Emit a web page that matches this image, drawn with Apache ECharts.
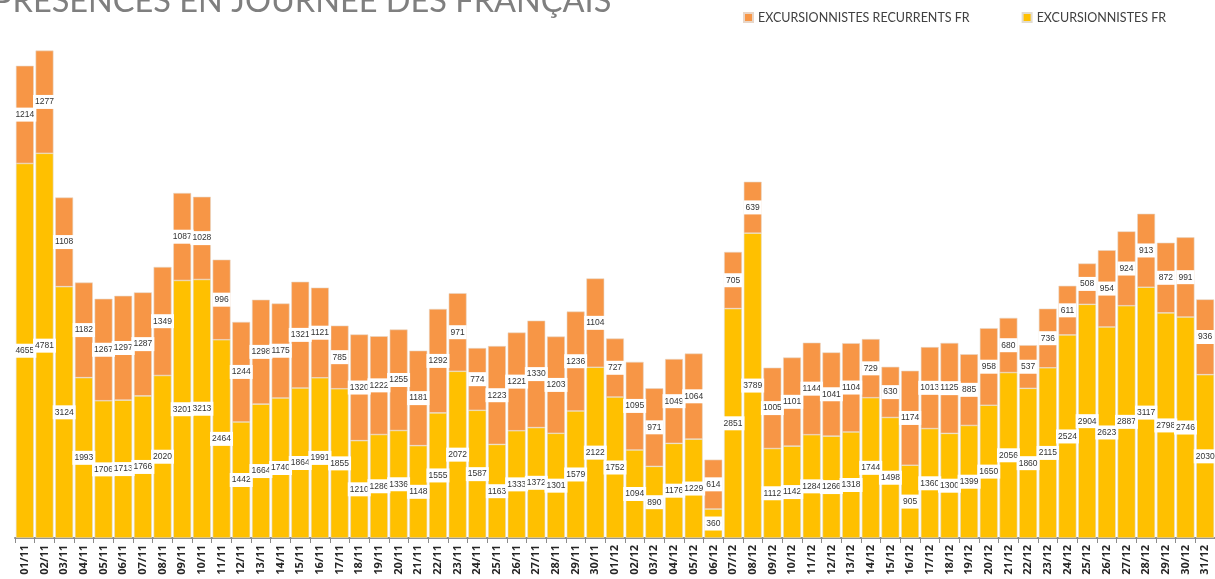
<!DOCTYPE html>
<html>
<head>
<meta charset="utf-8">
<script src="https://cdn.jsdelivr.net/npm/echarts@6/dist/echarts.min.js"></script>
<style>
  html, body { margin: 0; padding: 0; background: #fff; }
  #chart { width: 1215px; height: 579px; }
</style>
</head>
<body>
<div id="chart"></div>
<script>
// jours de novembre et décembre
const jours = [
  '01/11','02/11','03/11','04/11','05/11','06/11','07/11','08/11','09/11','10/11',
  '11/11','12/11','13/11','14/11','15/11','16/11','17/11','18/11','19/11','20/11',
  '21/11','22/11','23/11','24/11','25/11','26/11','27/11','28/11','29/11','30/11',
  '01/12','02/12','03/12','04/12','05/12','06/12','07/12','08/12','09/12','10/12',
  '11/12','12/12','13/12','14/12','15/12','16/12','17/12','18/12','19/12','20/12',
  '21/12','22/12','23/12','24/12','25/12','26/12','27/12','28/12','29/12','30/12','31/12'
];

// EXCURSIONNISTES FR (bas de la pile)
const excursionnistes = [
  4655, 4781, 3124, 1993, 1706, 1713, 1766, 2020, 3201, 3213,
  2464, 1442, 1664, 1740, 1864, 1991, 1855, 1210, 1286, 1336,
  1148, 1555, 2072, 1587, 1163, 1333, 1372, 1301, 1579, 2122,
  1752, 1094, 890, 1176, 1229, 360, 2851, 3789, 1112, 1142,
  1284, 1266, 1318, 1744, 1498, 905, 1360, 1300, 1399, 1650,
  2056, 1860, 2115, 2524, 2904, 2623, 2887, 3117, 2798, 2746, 2030
];

// EXCURSIONNISTES RECURRENTS FR (haut de la pile)
const recurrents = [
  1214, 1277, 1108, 1182, 1267, 1297, 1287, 1349, 1087, 1028,
  996, 1244, 1298, 1175, 1321, 1121, 785, 1320, 1222, 1255,
  1181, 1292, 971, 774, 1223, 1221, 1330, 1203, 1236, 1104,
  727, 1095, 971, 1049, 1064, 614, 705, 639, 1005, 1101,
  1144, 1041, 1104, 729, 630, 1174, 1013, 1125, 885, 958,
  680, 537, 736, 611, 508, 954, 924, 913, 872, 991, 936
];

var chartDom = document.getElementById('chart');
var myChart = echarts.init(chartDom);

// étiquettes blanches au centre des segments
const etiquette = {
  show: true,
  position: 'inside',
  backgroundColor: '#fff',
  color: '#333',
  fontSize: 8.5,
  fontFamily: 'Liberation Sans',
  padding: [3, 2, 2, 2]
};

const option = {
  animation: false,
  backgroundColor: '#fff',
  graphic: [
    {
      type: 'text',
      x: -7,
      y: -15,
      style: {
        text: 'PRESENCES EN JOURNEE DES FRANÇAIS',
        fontSize: 32.5,
        fontFamily: 'Lato',
        fill: '#7f7f7f'
      }
    }
  ],
  legend: {
    top: 6,
    left: 738,
    itemWidth: 9,
    itemHeight: 9,
    itemGap: 52,
    icon: 'rect',
    textStyle: { color: '#404040', fontSize: 12.5, fontFamily: 'Lato' },
    data: ['EXCURSIONNISTES RECURRENTS FR', 'EXCURSIONNISTES FR']
  },
  grid: {
    left: 15,
    right: 0,
    top: 15,
    bottom: 41
  },
  xAxis: {
    type: 'category',
    data: jours,
    axisLine: { lineStyle: { color: '#8c8c8c', width: 2 } },
    axisTick: { show: true, length: 5, lineStyle: { color: '#8c8c8c' } },
    axisLabel: {
      rotate: 90,
      interval: 0,
      margin: 7,
      color: '#262626',
      fontWeight: 'bold',
      fontSize: 11,
      fontFamily: 'Open Sans'
    }
  },
  yAxis: {
    type: 'value',
    min: 0,
    max: 6500,
    show: false
  },
  series: [
    {
      name: 'EXCURSIONNISTES FR',
      type: 'bar',
      stack: 'total',
      barCategoryGap: '9%',
      data: excursionnistes,
      itemStyle: { color: '#FFC000', borderColor: '#e2dccf', borderWidth: 0.6 },
      label: etiquette
    },
    {
      name: 'EXCURSIONNISTES RECURRENTS FR',
      type: 'bar',
      stack: 'total',
      barCategoryGap: '9%',
      data: recurrents,
      itemStyle: { color: '#F79646', borderColor: '#e8d6c8', borderWidth: 0.6 },
      label: etiquette
    }
  ]
};

myChart.setOption(option);
</script>
</body>
</html>
